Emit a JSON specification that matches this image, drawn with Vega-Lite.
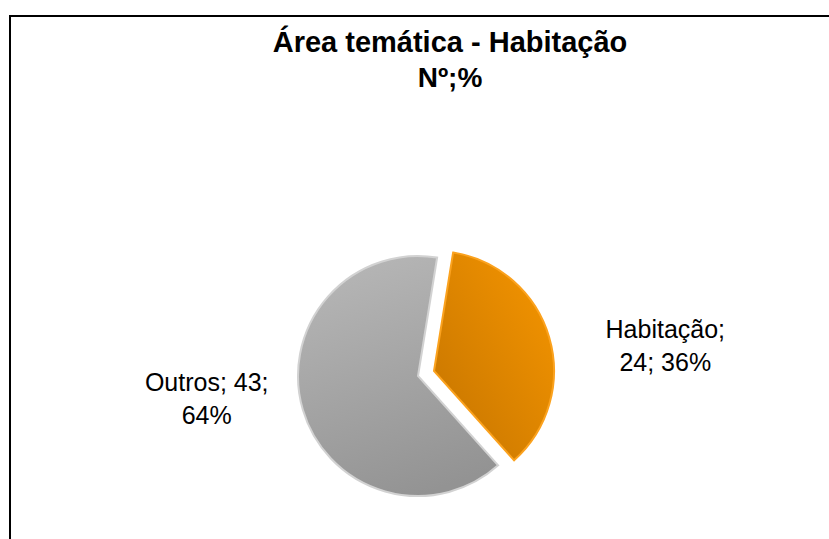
{
  "$schema": "https://vega.github.io/schema/vega-lite/v6.json",
  "width": 822,
  "height": 526,
  "autosize": {"type": "none"},
  "padding": {"left": 10, "top": 16, "right": -3, "bottom": -3},
  "background": "white",
  "config": {
    "view": {"stroke": null},
    "font": "Liberation Sans"
  },
  "title": {
    "text": "Área temática - Habitação",
    "subtitle": "Nº;%",
    "anchor": "middle",
    "orient": "top",
    "offset": -78,
    "dx": 29,
    "font": "Liberation Sans",
    "fontSize": 29,
    "fontWeight": "bold",
    "color": "black",
    "subtitleFont": "Liberation Sans",
    "subtitleFontSize": 28,
    "subtitleFontWeight": "bold",
    "subtitleColor": "black",
    "subtitlePadding": 7
  },
  "data": {
    "values": [
      {"categoria": "Habitação", "n": 24, "label": ["Habitação;", "24; 36%"]},
      {"categoria": "Outros", "n": 43, "label": ["Outros; 43;", "64%"]}
    ]
  },
  "transform": [
    {"stack": "n", "groupby": [], "as": ["t0", "t1"]},
    {"calculate": "(datum.t0 + datum.t1) / 2", "as": "tm"}
  ],
  "layer": [
    {
      "transform": [{"filter": "datum.categoria === 'Outros'"}],
      "mark": {"type": "rect", "fill": "white", "stroke": "black", "strokeWidth": 2},
      "encoding": {}
    },
    {
      "transform": [{"filter": "datum.categoria === 'Outros'"}],
      "mark": {
        "type": "arc",
        "outerRadius": 120,
        "xOffset": -3,
        "yOffset": 97,
        "stroke": "#D2D2D2",
        "strokeWidth": 2,
        "fill": {
          "gradient": "linear",
          "x1": 0.3, "y1": 0, "x2": 0.6, "y2": 1,
          "stops": [
            {"offset": 0, "color": "#B6B6B6"},
            {"offset": 1, "color": "#939393"}
          ]
        }
      },
      "encoding": {
        "theta": {"field": "t0", "type": "quantitative", "scale": {"domain": [0, 67], "range": [0.16, 6.4432]}},
        "theta2": {"field": "t1"}
      }
    },
    {
      "transform": [{"filter": "datum.categoria === 'Habitação'"}],
      "mark": {
        "type": "arc",
        "outerRadius": 120,
        "xOffset": 13,
        "yOffset": 92,
        "stroke": "#FBA21E",
        "strokeWidth": 2,
        "fill": {
          "gradient": "linear",
          "x1": 0.9, "y1": 0.1, "x2": 0.1, "y2": 0.9,
          "stops": [
            {"offset": 0, "color": "#F29300"},
            {"offset": 1, "color": "#C97700"}
          ]
        }
      },
      "encoding": {
        "theta": {"field": "t0", "type": "quantitative", "scale": {"domain": [0, 67], "range": [0.16, 6.4432]}},
        "theta2": {"field": "t1"}
      }
    },
    {
      "transform": [{"filter": "datum.categoria === 'Habitação'"}],
      "mark": {
        "type": "text",
        "radius": 240,
        "dx": 14,
        "dy": 119,
        "align": "center",
        "baseline": "middle",
        "fontSize": 25,
        "lineHeight": 33,
        "font": "Liberation Sans",
        "color": "black"
      },
      "encoding": {
        "theta": {"field": "tm", "type": "quantitative", "scale": {"domain": [0, 67], "range": [0.16, 6.4432]}},
        "text": {"field": "label"}
      }
    },
    {
      "transform": [{"filter": "datum.categoria === 'Outros'"}],
      "mark": {
        "type": "text",
        "radius": 240,
        "dx": 16,
        "dy": 36,
        "align": "center",
        "baseline": "middle",
        "fontSize": 25,
        "lineHeight": 33,
        "font": "Liberation Sans",
        "color": "black"
      },
      "encoding": {
        "theta": {"field": "tm", "type": "quantitative", "scale": {"domain": [0, 67], "range": [0.16, 6.4432]}},
        "text": {"field": "label"}
      }
    }
  ]
}
